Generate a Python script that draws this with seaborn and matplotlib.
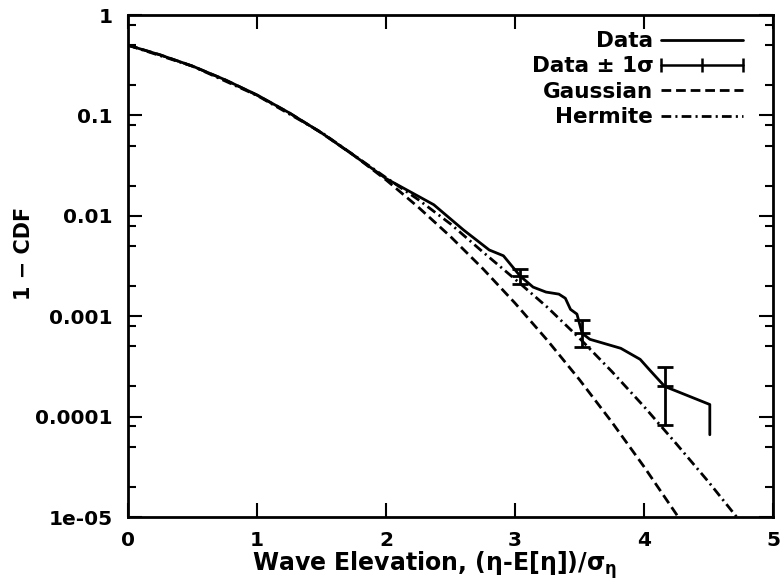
import numpy as np
import pandas as pd
import seaborn as sb
import matplotlib
matplotlib.use('Agg')
import matplotlib.pyplot as plt
from matplotlib.ticker import LogLocator, NullFormatter
from matplotlib.lines import Line2D
from matplotlib.legend_handler import HandlerLine2D

# values
data_x = [0.0, 0.25, 0.5, 0.75, 1.0, 1.25, 1.5, 1.75, 2.0, 2.2, 2.37, 2.6, 2.75, 2.8, 2.91,
          3.04, 3.14, 3.24, 3.34, 3.39, 3.43, 3.48, 3.52, 3.58, 3.66, 3.82, 3.97, 4.04, 4.16,
          4.51, 4.51]
data_y = [0.50, 0.40, 0.31, 0.227, 0.16, 0.106, 0.067, 0.040, 0.0235, 0.017, 0.0129, 0.00724,
          0.00513, 0.00457, 0.0040, 0.00251, 0.00195, 0.00174, 0.00166, 0.00151, 0.00117,
          0.00105, 0.000676, 0.000589, 0.00055, 0.000479, 0.000372, 0.000295, 0.0002,
          0.000132, 0.000066]

err_x = [3.04, 3.52, 4.16]
err_y = [0.00251, 0.000676, 0.0002]
err_lo = [0.0021, 0.00049, 0.000083]
err_hi = [0.00295, 0.00091, 0.00031]

gauss_x = [0.0, 0.25, 0.5, 0.75, 1.0, 1.25, 1.5, 1.75, 2.0, 2.25, 2.5, 2.75, 3.0, 3.25, 3.5,
           3.75, 4.0, 4.25, 4.3]
gauss_y = [0.5, 0.401, 0.309, 0.227, 0.159, 0.106, 0.0668, 0.0401, 0.0228, 0.0122, 0.00621,
           0.00298, 0.00135, 0.000577, 0.000233, 0.0000884, 0.0000317, 0.0000107, 0.0000085]

herm_x = [0.0, 0.5, 1.0, 1.5, 2.0, 2.25, 2.5, 2.75, 3.0, 3.25, 3.5, 3.75, 4.0, 4.25, 4.5, 4.75]
herm_y = [0.5, 0.309, 0.158, 0.0676, 0.024, 0.0145, 0.0083, 0.00437, 0.00234, 0.00123,
          0.000603, 0.000282, 0.000126, 0.0000537, 0.0000224, 0.0000089]

ytick_vals = [1, 0.1, 0.01, 0.001, 0.0001, 0.00001]
ytick_labels = ['1', '0.1', '0.01', '0.001', '0.0001', '1e-05']

sb.set_style('ticks')
plt.rcParams['font.family'] = ['DejaVu Sans']
plt.rcParams['font.weight'] = 'bold'
plt.rcParams['text.color'] = 'black'
plt.rcParams['axes.labelcolor'] = 'black'
plt.rcParams['mathtext.default'] = 'regular'
plt.rcParams['lines.scale_dashes'] = False

fig = plt.figure(figsize=(7.84, 5.86), dpi=100)
ax = fig.add_axes([0.1633, 0.1177, 0.8227, 0.8567])

sb.lineplot(x=data_x, y=data_y, ax=ax, color='black', lw=2.0, sort=False, estimator=None)
ax.errorbar(err_x, err_y,
            yerr=[np.array(err_y) - np.array(err_lo), np.array(err_hi) - np.array(err_y)],
            fmt='_', ms=12, mew=2.0, color='black', ecolor='black', elinewidth=2.0,
            capsize=6, capthick=2.0)
sb.lineplot(x=gauss_x, y=gauss_y, ax=ax, color='black', lw=2.0, sort=False, estimator=None)
sb.lineplot(x=herm_x, y=herm_y, ax=ax, color='black', lw=2.0, sort=False, estimator=None)
lines = ax.get_lines()
data_line = lines[0]
gauss_line = [l for l in lines if len(l.get_xdata()) == len(gauss_x)][0]
herm_line = [l for l in lines if len(l.get_xdata()) == len(herm_x)][0]
gauss_line.set_dashes((7, 3.5))
herm_line.set_dashes((7, 3, 1.5, 3))

ax.set_yscale('log')
ax.set_xlim(0, 5)
ax.set_ylim(1e-5, 1)
ax.set_xticks([0, 1, 2, 3, 4, 5])
ax.set_yticks(ytick_vals, labels=ytick_labels)
ax.yaxis.set_minor_locator(LogLocator(base=10, subs=(2, 5, 8), numticks=20))
ax.yaxis.set_minor_formatter(NullFormatter())
ax.tick_params(which='both', direction='in', top=True, right=True, width=1.5, colors='black')
ax.tick_params(which='major', length=10, labelsize=14.5)
ax.tick_params(which='minor', length=6)
ax.tick_params(axis='x', pad=10)
ax.tick_params(axis='y', pad=11)
for s in ax.spines.values():
    s.set_linewidth(2.0)
    s.set_color('black')

ax.set_xlabel('Wave Elevation, (η-E[η])/σ$_η$', fontsize=17, fontweight='bold')
ax.set_ylabel('1 − CDF', fontsize=15, fontweight='bold')
ax.xaxis.set_label_coords(0.476, -0.064)
ax.yaxis.set_label_coords(-0.146, 0.526)

err_proxy = Line2D([0, 1], [0, 0], color='black', lw=1.8, marker='|', ms=10, mew=1.8)
leg = ax.legend([data_line, err_proxy, gauss_line, herm_line],
                ['Data', 'Data ± 1σ', 'Gaussian', 'Hermite'],
                handler_map={err_proxy: HandlerLine2D(numpoints=3, marker_pad=0)},
                loc='upper right', bbox_to_anchor=(0.953, 0.968), borderaxespad=0,
                borderpad=0, frameon=False, markerfirst=False, fontsize=15.5,
                handlelength=3.8, handletextpad=0.35, labelspacing=0.25)

plt.savefig('out.png', dpi=100)
